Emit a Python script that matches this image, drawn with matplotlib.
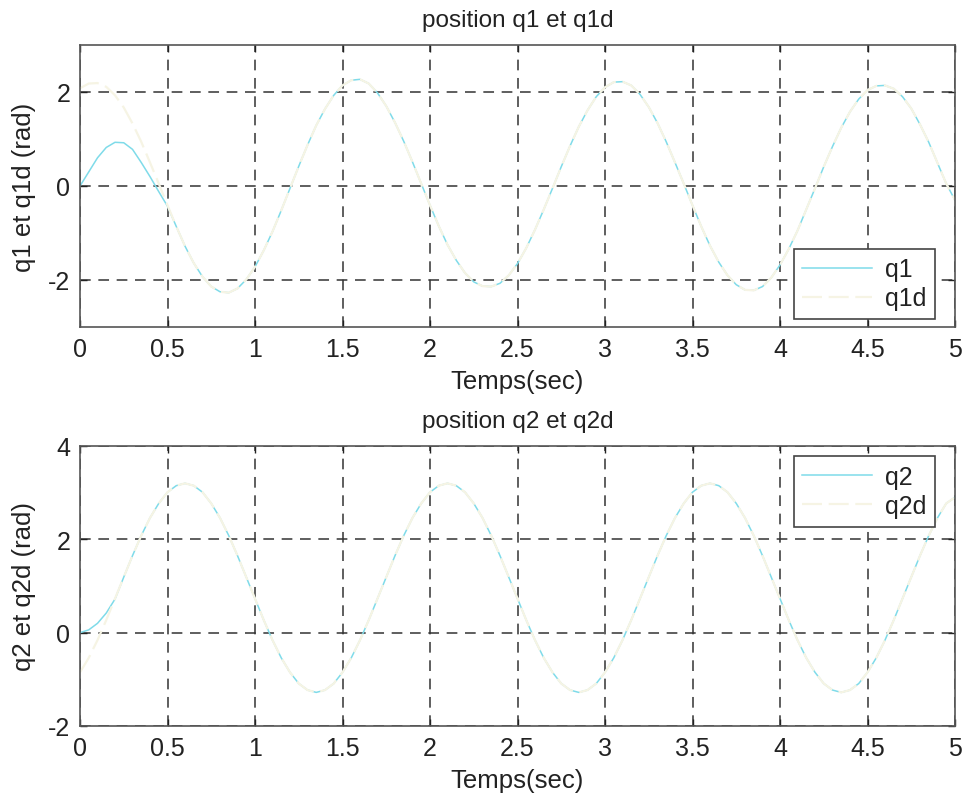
import numpy as np
import matplotlib
matplotlib.use("Agg")
import matplotlib.pyplot as plt

plt.rcParams['font.family'] = ['Liberation Sans', 'DejaVu Sans']
plt.rcParams['axes.unicode_minus'] = False

# time axis (s), step 0.05
t = np.linspace(0, 5, 101)

q1d = [2.08, 2.18, 2.19, 2.11, 1.93, 1.67, 1.33, 0.94, 0.50, 0.05,
       -0.41, -0.86, -1.28, -1.64, -1.93, -2.14, -2.25, -2.27, -2.18, -1.99,
       -1.72, -1.37, -0.97, -0.52, -0.05, 0.42, 0.87, 1.29, 1.64, 1.93,
       2.14, 2.25, 2.27, 2.18, 1.98, 1.70, 1.35, 0.95, 0.51, 0.05,
       -0.41, -0.85, -1.25, -1.58, -1.85, -2.04, -2.13, -2.14, -2.07, -1.90,
       -1.65, -1.32, -0.93, -0.50, -0.05, 0.41, 0.85, 1.26, 1.61, 1.90,
       2.10, 2.21, 2.22, 2.14, 1.95, 1.68, 1.34, 0.94, 0.50, 0.05,
       -0.41, -0.86, -1.27, -1.62, -1.90, -2.10, -2.21, -2.22, -2.14, -1.95,
       -1.68, -1.34, -0.95, -0.50, -0.05, 0.41, 0.84, 1.24, 1.58, 1.85,
       2.04, 2.13, 2.14, 2.07, 1.90, 1.65, 1.31, 0.93, 0.49, 0.05, -0.30]

q1_start = [0.0, 0.30, 0.60, 0.82, 0.93, 0.92, 0.78, 0.50, 0.20, -0.12, -0.43]
q1 = q1_start + q1d[len(q1_start):]

q2d = [-0.85, -0.54, -0.16, 0.27, 0.73, 1.19, 1.65, 2.08, 2.46, 2.77,
       3.01, 3.15, 3.20, 3.15, 3.01, 2.77, 2.46, 2.08, 1.65, 1.19,
       0.73, 0.27, -0.16, -0.54, -0.85, -1.09, -1.23, -1.28, -1.23, -1.09,
       -0.85, -0.54, -0.16, 0.27, 0.73, 1.19, 1.65, 2.08, 2.46, 2.77,
       3.01, 3.15, 3.20, 3.15, 3.01, 2.77, 2.46, 2.08, 1.65, 1.19,
       0.73, 0.27, -0.16, -0.54, -0.85, -1.09, -1.23, -1.28, -1.23, -1.09,
       -0.85, -0.54, -0.16, 0.27, 0.73, 1.19, 1.65, 2.08, 2.46, 2.77,
       3.01, 3.15, 3.20, 3.15, 3.01, 2.77, 2.46, 2.08, 1.65, 1.19,
       0.73, 0.27, -0.16, -0.54, -0.85, -1.09, -1.23, -1.28, -1.23, -1.09,
       -0.85, -0.54, -0.16, 0.27, 0.73, 1.19, 1.65, 2.08, 2.46, 2.77, 2.90]

q2_start = [0.0, 0.06, 0.20, 0.42, 0.72, 1.19]
q2 = q2_start + q2d[len(q2_start):]

xticks = [0, 0.5, 1, 1.5, 2, 2.5, 3, 3.5, 4, 4.5, 5]
xticklabels = ["0", "0.5", "1", "1.5", "2", "2.5", "3", "3.5", "4", "4.5", "5"]

fig = plt.figure(figsize=(9.63, 8.04), dpi=100)
ax1 = fig.add_axes([80/963, 1-328/804, 875/963, 282/804])
ax2 = fig.add_axes([80/963, 1-727/804, 875/963, 280/804])

cyan = '#7fdbe9'
pale = '#f6f4e4'


def style(ax, ylim, yticks, title, ylabel, legloc, anchor, labels, q, qd):
    ax.plot(t, q, color=cyan, lw=1.1, label=labels[0])
    ax.plot(t, qd, color=pale, lw=1.6, dashes=(9, 3), label=labels[1])
    ax.set_xlim(0, 5)
    ax.set_ylim(*ylim)
    ax.set_xticks(xticks)
    ax.set_xticklabels(xticklabels)
    ax.set_yticks(yticks)
    ax.tick_params(direction='in', labelsize=18, length=5, top=True, right=True,
                   width=1, pad=7, colors='#222222')
    ax.grid(True, color='#333333', linestyle=(0, (7, 5)), linewidth=1.1)
    for s in ax.spines.values():
        s.set_color('#555555')
        s.set_linewidth(1.2)
    ax.set_title(title, fontsize=17.5, pad=14, color='#222222')
    ax.set_xlabel('Temps(sec)', fontsize=18.5, labelpad=6, color='#222222')
    ax.set_ylabel(ylabel, fontsize=18.5, labelpad=9, color='#222222')
    leg = ax.legend(loc=legloc, bbox_to_anchor=anchor, borderaxespad=0,
                    fontsize=18, fancybox=False, framealpha=1,
                    edgecolor='#444444', handlelength=2.8, borderpad=0.35,
                    labelspacing=0.2, handletextpad=0.5)
    leg.get_frame().set_linewidth(1.2)
    for txt in leg.get_texts():
        txt.set_color('#222222')


style(ax1, (-3, 3), [-2, 0, 2], 'position q1 et q1d', 'q1 et q1d (rad)',
      'lower right', (0.977, 0.028), ['q1', 'q1d'], q1, q1d)
style(ax2, (-2, 4), [-2, 0, 2, 4], 'position q2 et q2d', 'q2 et q2d (rad)',
      'upper right', (0.977, 0.964), ['q2', 'q2d'], q2, q2d)

fig.savefig('out.png', dpi=100)
